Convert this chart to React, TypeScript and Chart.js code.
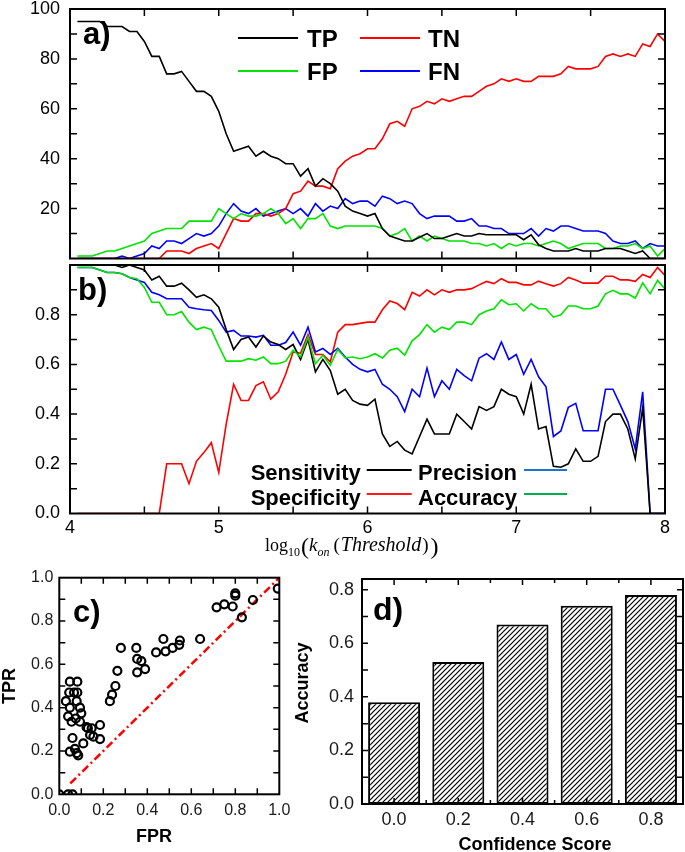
import { useEffect, useRef } from 'react';
import { Chart, registerables } from 'chart.js';

Chart.register(...registerables);

const W = 685;
const H = 852;
const SANS = "'Liberation Sans', Arial, Helvetica, sans-serif";
const SERIF = "'Liberation Serif', 'Times New Roman', Times, serif";

const RED = '#ff0000';
const GREEN = '#00e400';
const BLUE = '#0000ff';
const BLACK = '#000000';

// ---------------- data: panels a) and b) ----------------
const KON = [
  4.05, 4.1, 4.15, 4.2, 4.25, 4.3, 4.35, 4.4, 4.45, 4.5,
  4.55, 4.6, 4.65, 4.7, 4.75, 4.8, 4.85, 4.9, 4.95, 5.0,
  5.05, 5.1, 5.15, 5.2, 5.25, 5.3, 5.35, 5.4, 5.45, 5.5,
  5.55, 5.6, 5.65, 5.7, 5.75, 5.8, 5.85, 5.9, 5.95, 6.0,
  6.05, 6.1, 6.15, 6.2, 6.25, 6.3, 6.35, 6.4, 6.45, 6.5,
  6.55, 6.6, 6.65, 6.7, 6.75, 6.8, 6.85, 6.9, 6.95, 7.0,
  7.05, 7.1, 7.15, 7.2, 7.25, 7.3, 7.35, 7.4, 7.45, 7.5,
  7.55, 7.6, 7.65, 7.7, 7.75, 7.8, 7.85, 7.9, 7.95, 8.0,
];

const TP = [
  95, 95, 95, 95, 93, 93, 93, 91, 91, 87,
  81, 81, 74, 74, 75, 71, 67, 67, 65, 59,
  50, 43, 44, 45, 41, 43, 41, 40, 38, 38,
  33, 36, 29, 32, 30, 27, 21, 19, 18, 17,
  18, 12, 9, 8, 7, 7, 8.5, 10, 8, 8,
  9, 10, 9, 9, 10, 9.5, 9.5, 9.5, 9.5, 9.5,
  7.5, 9.5, 5.5, 4, 3, 3, 3, 4, 3, 3,
  3, 4, 4, 4, 3, 2, 3, 0, 0, 0,
];
const FP = [
  1, 1, 1, 2, 3, 3, 4, 5, 6, 7,
  10, 11, 12, 12, 12, 15, 15, 15, 15, 20,
  18, 16, 18, 17, 17, 18, 20, 18, 14, 16,
  12, 16, 16, 18, 13, 12, 13, 13, 13, 13,
  13, 12, 9, 10, 12, 7, 9, 7, 9, 8,
  7, 7, 7, 6, 6, 5, 6, 4, 6, 5,
  6, 6, 5, 6, 7, 6, 4, 5, 6, 6,
  6, 4, 4, 5, 5, 6, 4, 5, 1, 4,
];
const TN = [
  0, 0, 0, 0, 0, 0, 0, 0, 0, 0,
  0, 0, 3, 3, 3, 2, 4, 5, 6, 4,
  10, 16, 15, 15, 18, 18, 17, 18, 20, 26,
  27, 31, 29, 29, 28, 36, 39, 41, 42, 44,
  44, 48, 54, 55, 53, 60, 61, 63, 62, 64,
  63, 64, 65, 65, 67, 69, 70, 72, 71, 72,
  71, 71, 73, 73, 73, 74, 77, 76, 76, 76,
  77, 81, 82, 81, 82, 81, 86, 85, 90, 87,
];
const FN = [
  0, 0, 0, 0, 0, 0, 1, 0, 1, 2,
  5, 4, 7, 7, 6, 8, 10, 9, 10, 13,
  18, 22, 19, 18, 20, 17, 18, 19, 20, 18,
  20, 17, 22, 19, 21, 20, 24, 22, 23, 23,
  21, 25, 24, 22, 23, 22, 18, 16, 17, 17,
  17, 15, 15, 16, 13, 13, 12, 12, 10, 10,
  10, 12, 9, 12, 11, 13, 13, 12, 11, 11,
  11, 10, 7, 6, 6, 7, 4, 6, 5, 5,
];

const SENSITIVITY = [
  1, 1, 1, 1, 1, 1, 0.99, 1, 0.99, 0.98,
  0.94, 0.955, 0.915, 0.915, 0.927, 0.9, 0.87, 0.88, 0.864, 0.83,
  0.74, 0.66, 0.7, 0.71, 0.67, 0.715, 0.69, 0.68, 0.66, 0.68,
  0.62, 0.7, 0.57, 0.62, 0.575, 0.48, 0.5, 0.455, 0.44, 0.435,
  0.46, 0.32, 0.27, 0.29, 0.255, 0.24, 0.31, 0.38, 0.32, 0.32,
  0.32, 0.4, 0.37, 0.34, 0.43, 0.415, 0.43, 0.5, 0.48, 0.47,
  0.4, 0.52, 0.34, 0.35, 0.19, 0.186, 0.2, 0.26, 0.21, 0.21,
  0.23, 0.37, 0.4, 0.4, 0.34, 0.22, 0.425, 0, 0, 0,
];
const SPECIFICITY = [
  0, 0, 0, 0, 0, 0, 0, 0, 0, 0,
  0, 0, 0.2, 0.2, 0.2, 0.12, 0.21, 0.245, 0.285, 0.165,
  0.36, 0.52, 0.455, 0.455, 0.515, 0.53, 0.46, 0.49, 0.56, 0.65,
  0.645, 0.72, 0.64, 0.64, 0.61, 0.73, 0.76, 0.76, 0.765, 0.77,
  0.77, 0.82, 0.855, 0.845, 0.82, 0.89, 0.875, 0.9, 0.88, 0.9,
  0.89, 0.9, 0.9, 0.905, 0.92, 0.934, 0.925, 0.945, 0.93, 0.93,
  0.92, 0.92, 0.935, 0.925, 0.915, 0.925, 0.95, 0.94, 0.927, 0.927,
  0.927, 0.955, 0.955, 0.94, 0.94, 0.934, 0.962, 0.95, 0.99, 0.958,
];
const PRECISION = [
  0.99, 0.99, 0.99, 0.98, 0.97, 0.97, 0.965, 0.95, 0.94, 0.93,
  0.89, 0.88, 0.864, 0.864, 0.864, 0.83, 0.824, 0.82, 0.817, 0.777,
  0.73, 0.737, 0.714, 0.714, 0.71, 0.717, 0.677, 0.677, 0.688, 0.73,
  0.677, 0.75, 0.65, 0.664, 0.64, 0.665, 0.63, 0.6, 0.58, 0.57,
  0.58, 0.52, 0.5, 0.47, 0.41, 0.5, 0.47, 0.585, 0.47, 0.534,
  0.5, 0.58, 0.555, 0.534, 0.625, 0.643, 0.62, 0.69, 0.62, 0.64,
  0.56, 0.62, 0.55, 0.51, 0.31, 0.332, 0.427, 0.443, 0.333, 0.333,
  0.333, 0.5, 0.5, 0.436, 0.37, 0.26, 0.49, 0, 0, 0,
];
const ACCURACY = [
  0.99, 0.99, 0.99, 0.98, 0.97, 0.97, 0.965, 0.95, 0.945, 0.91,
  0.85, 0.85, 0.8, 0.8, 0.813, 0.77, 0.74, 0.75, 0.74, 0.674,
  0.613, 0.613, 0.613, 0.623, 0.617, 0.63, 0.603, 0.603, 0.613, 0.657,
  0.63, 0.71, 0.603, 0.637, 0.597, 0.66, 0.626, 0.63, 0.623, 0.63,
  0.643, 0.626, 0.657, 0.665, 0.637, 0.695, 0.72, 0.76, 0.73, 0.75,
  0.74, 0.77, 0.77, 0.76, 0.8, 0.815, 0.824, 0.86, 0.84, 0.844,
  0.815, 0.844, 0.824, 0.824, 0.79, 0.8, 0.835, 0.835, 0.824, 0.824,
  0.835, 0.884, 0.898, 0.884, 0.884, 0.867, 0.928, 0.884, 0.938, 0.904,
];

// ---------------- data: panel c) ----------------
const FPR = [
  0.0, 0.04, 0.06, 0.03, 0.048, 0.082, 0.045, 0.067, 0.082, 0.048, 0.04,
  0.056, 0.079, 0.094, 0.1, 0.075, 0.094, 0.06, 0.048, 0.071, 0.086,
  0.079, 0.109, 0.124, 0.13, 0.14, 0.147, 0.155, 0.185, 0.185, 0.23,
  0.24, 0.255, 0.264, 0.28, 0.35, 0.354, 0.354, 0.373, 0.39, 0.44,
  0.473, 0.483, 0.515, 0.545, 0.548, 0.64, 0.715, 0.75, 0.788, 0.8,
  0.8, 0.83, 0.88, 0.993,
];
const TPR = [
  0, 0, 0, 0.43, 0.52, 0.52, 0.47, 0.47, 0.47, 0.4, 0.36,
  0.335, 0.43, 0.4, 0.374, 0.35, 0.335, 0.26, 0.197, 0.21, 0.18,
  0.19, 0.235, 0.31, 0.305, 0.274, 0.305, 0.266, 0.32, 0.255, 0.43,
  0.46, 0.5, 0.57, 0.676, 0.676, 0.625, 0.563, 0.615, 0.578, 0.655,
  0.717, 0.66, 0.676, 0.69, 0.71, 0.717, 0.863, 0.877, 0.867, 0.917,
  0.928, 0.817, 0.897, 0.95,
];
const DIAG_X = [0.05, 1.0];
const DIAG_Y = [0.05, 1.0];

// ---------------- data: panel d) ----------------
const CONF_SCORES = ['0.0', '0.2', '0.4', '0.6', '0.8'];
const CONF_ACCURACY = [0.38, 0.53, 0.67, 0.74, 0.78];

// ---------------- axis tick values ----------------
const AB_X_TICKS = [4.5, 5, 5.5, 6, 6.5, 7, 7.5];
const A_Y_TICKS = [10, 20, 30, 40, 50, 60, 70, 80, 90];
const B_Y_TICKS = [0.1, 0.2, 0.3, 0.4, 0.5, 0.6, 0.7, 0.8, 0.9];
const C_TICKS = [0.1, 0.2, 0.3, 0.4, 0.5, 0.6, 0.7, 0.8, 0.9];
const D_Y_TICKS = [0.1, 0.2, 0.3, 0.4, 0.5, 0.6, 0.7, 0.8];
const D_X_MAJOR = [0, 1, 2, 3, 4];
const D_X_MINOR = [0.5, 1.5, 2.5, 3.5];

// ---------------- layout (chart areas in page pixels) ----------------
const AREA_A = { l: 70, t: 9, r: 665, b: 258.5 };
const AREA_B = { l: 70, t: 265, r: 665, b: 513.5 };
const AREA_C = { l: 59.3, t: 577.7, r: 279.3, b: 794.3 };
const AREA_D = { l: 362, t: 579, r: 683, b: 804 };

type Area = { l: number; t: number; r: number; b: number };
type TickSpec = { axis: 'x' | 'y'; values: number[]; len: number; sides: string[] };

function baseOptions(area: Area) {
  return {
    animation: false,
    responsive: false,
    maintainAspectRatio: false,
    events: [],
    layout: { padding: { left: 0, top: area.t, right: W - area.r, bottom: 0 } },
    plugins: { legend: { display: false }, tooltip: { enabled: false }, title: { display: false } },
  };
}

const noGrid = { display: false, drawTicks: false, drawOnChartArea: false };
const noBorder = { display: false };
const tickFont = (size: number) => ({ family: SANS, size, lineHeight: 1 });

const fitX = (area: Area) => (s: any) => {
  s.height = H - area.b;
  s.paddingLeft = 0;
  s.paddingRight = 0;
};
const fitY = (area: Area) => (s: any) => {
  s.width = area.l;
  s.paddingTop = 0;
  s.paddingBottom = 0;
};

function framePlugin(id: string, specs: TickSpec[]) {
  return {
    id,
    afterDatasetsDraw(chart: any) {
      const { ctx, chartArea: a, scales } = chart;
      ctx.save();
      ctx.strokeStyle = '#000';
      ctx.lineWidth = 1.5;
      ctx.beginPath();
      for (const s of specs) {
        for (const v of s.values) {
          if (s.axis === 'x') {
            const p = scales.x.getPixelForValue(v);
            if (s.sides.includes('bottom')) {
              ctx.moveTo(p, a.bottom);
              ctx.lineTo(p, a.bottom - s.len);
            }
            if (s.sides.includes('top')) {
              ctx.moveTo(p, a.top);
              ctx.lineTo(p, a.top + s.len);
            }
          } else {
            const p = scales.y.getPixelForValue(v);
            if (s.sides.includes('left')) {
              ctx.moveTo(a.left, p);
              ctx.lineTo(a.left + s.len, p);
            }
            if (s.sides.includes('right')) {
              ctx.moveTo(a.right, p);
              ctx.lineTo(a.right - s.len, p);
            }
          }
        }
      }
      ctx.stroke();
      ctx.lineWidth = 2;
      ctx.strokeRect(a.left, a.top, a.right - a.left, a.bottom - a.top);
      ctx.restore();
    },
  };
}

function annotPlugin(id: string, draw: (ctx: CanvasRenderingContext2D, chart: any) => void) {
  return {
    id,
    afterDraw(chart: any) {
      const ctx = chart.ctx;
      ctx.save();
      ctx.fillStyle = '#000';
      ctx.textAlign = 'left';
      ctx.textBaseline = 'alphabetic';
      draw(ctx, chart);
      ctx.restore();
    },
  };
}

function lineDs(label: string, data: number[], color: string) {
  return {
    label,
    data,
    borderColor: color,
    backgroundColor: color,
    borderWidth: 1.6,
    pointRadius: 0,
    fill: false,
    tension: 0,
  };
}

function legendLine(ctx: CanvasRenderingContext2D, x1: number, x2: number, y: number, color: string, w: number) {
  ctx.save();
  ctx.strokeStyle = color;
  ctx.lineWidth = w;
  ctx.beginPath();
  ctx.moveTo(x1, y);
  ctx.lineTo(x2, y);
  ctx.stroke();
  ctx.restore();
}

// ---------------- panel a ----------------
function makeA(canvas: HTMLCanvasElement) {
  const area = AREA_A;
  return new Chart(canvas, {
    type: 'line',
    data: {
      labels: KON,
      datasets: [
        lineDs('TP', TP, BLACK),
        lineDs('FP', FP, GREEN),
        lineDs('TN', TN, RED),
        lineDs('FN', FN, BLUE),
      ],
    },
    options: {
      ...baseOptions(area),
      scales: {
        x: {
          type: 'linear', min: 4, max: 8, grid: noGrid, border: noBorder,
          ticks: { display: false },
          afterFit: fitX(area),
        },
        y: {
          type: 'linear', min: 0, max: 100, grid: noGrid, border: noBorder,
          ticks: {
            stepSize: 20, padding: 10, color: '#000', font: tickFont(18),
            callback: (v: any) => (Number(v) === 0 ? '' : String(v)),
          },
          afterFit: fitY(area),
        },
      },
    } as any,
    plugins: [
      framePlugin('frameA', [
        { axis: 'x', values: AB_X_TICKS, len: 7, sides: ['top', 'bottom'] },
        { axis: 'y', values: A_Y_TICKS, len: 7, sides: ['left', 'right'] },
      ]),
      annotPlugin('annotA', (ctx, chart) => {
        ctx.font = `bold 31px ${SANS}`;
        ctx.fillText('a)', 83, 44);
        const ds = chart.data.datasets;
        const cols = [
          { x1: 238, x2: 298, tx: 307 },
          { x1: 360, x2: 420, tx: 428 },
        ];
        const rows = [{ ly: 38, by: 47 }, { ly: 71, by: 80 }];
        ctx.font = `bold 24px ${SANS}`;
        ds.forEach((d: any, i: number) => {
          const c = cols[Math.floor(i / 2)];
          const r = rows[i % 2];
          legendLine(ctx, c.x1, c.x2, r.ly, d.borderColor, 2);
          ctx.fillStyle = '#000';
          ctx.fillText(d.label, c.tx, r.by);
        });
      }),
    ],
  } as any);
}

// ---------------- panel b ----------------
const LEGEND_B = [
  { label: 'Sensitivity', color: '#000000' },
  { label: 'Specificity', color: '#ff1a1a' },
  { label: 'Precision', color: '#1c74c6' },
  { label: 'Accuracy', color: '#00b050' },
];

function drawMathTitle(ctx: CanvasRenderingContext2D) {
  let x = 265;
  const base = 551;
  const put = (t: string, font: string, dy: number, gap: number) => {
    ctx.font = font;
    ctx.fillText(t, x, base + dy);
    x += ctx.measureText(t).width + gap;
  };
  put('log', `18px ${SERIF}`, 0, 0);
  put('10', `12px ${SERIF}`, 5, 1);
  put('(', `24px ${SERIF}`, 3, 0);
  put('k', `italic 19px ${SERIF}`, 0, 0);
  put('on', `italic 12px ${SERIF}`, 5, 4);
  put('(', `19px ${SERIF}`, 0, 1);
  put('Threshold', `italic 20px ${SERIF}`, 0, 1);
  put(')', `19px ${SERIF}`, 0, 2);
  put(')', `24px ${SERIF}`, 3, 0);
}

function makeB(canvas: HTMLCanvasElement) {
  const area = AREA_B;
  return new Chart(canvas, {
    type: 'line',
    data: {
      labels: KON,
      datasets: [
        lineDs('Accuracy', ACCURACY, GREEN),
        lineDs('Sensitivity', SENSITIVITY, BLACK),
        lineDs('Precision', PRECISION, BLUE),
        lineDs('Specificity', SPECIFICITY, RED),
      ],
    },
    options: {
      ...baseOptions(area),
      scales: {
        x: {
          type: 'linear', min: 4, max: 8, grid: noGrid, border: noBorder,
          ticks: { stepSize: 1, padding: 6, color: '#000', font: tickFont(18), maxRotation: 0, autoSkip: false },
          afterFit: fitX(area),
        },
        y: {
          type: 'linear', min: 0, max: 1, grid: noGrid, border: noBorder,
          ticks: {
            stepSize: 0.2, padding: 10, color: '#000', font: tickFont(18),
            callback: (v: any) => (Math.abs(Number(v) - 1) < 1e-6 ? '' : Number(v).toFixed(1)),
          },
          afterFit: fitY(area),
        },
      },
    } as any,
    plugins: [
      framePlugin('frameB', [
        { axis: 'x', values: AB_X_TICKS, len: 7, sides: ['top', 'bottom'] },
        { axis: 'y', values: B_Y_TICKS, len: 7, sides: ['left', 'right'] },
      ]),
      annotPlugin('annotB', (ctx) => {
        ctx.font = `bold 31px ${SANS}`;
        ctx.fillText('b)', 78, 300);
        const cols = [
          { tx: 250.7, x1: 366.7, x2: 411.7 },
          { tx: 418, x1: 524, x2: 567 },
        ];
        const rows = [{ ly: 470, by: 480 }, { ly: 494, by: 505 }];
        ctx.font = `bold 22px ${SANS}`;
        LEGEND_B.forEach((e, i) => {
          const c = cols[Math.floor(i / 2)];
          const r = rows[i % 2];
          ctx.fillStyle = '#000';
          ctx.fillText(e.label, c.tx, r.by);
          legendLine(ctx, c.x1, c.x2, r.ly, e.color, 2.2);
        });
        ctx.fillStyle = '#000';
        drawMathTitle(ctx);
      }),
    ],
  } as any);
}

// ---------------- panel c ----------------
function makeC(canvas: HTMLCanvasElement) {
  const area = AREA_C;
  const label1 = (v: any) => Number(v).toFixed(1);
  return new Chart(canvas, {
    type: 'scatter',
    data: {
      datasets: [
        {
          label: 'ROC',
          data: FPR.map((x, i) => ({ x, y: TPR[i] })),
          pointRadius: 4,
          pointBorderWidth: 2.2,
          borderColor: '#000',
          pointBorderColor: '#000',
          backgroundColor: 'rgba(0,0,0,0)',
          pointBackgroundColor: 'rgba(0,0,0,0)',
          showLine: false,
          clip: 0,
        },
        {
          label: 'Random',
          data: DIAG_X.map((x, i) => ({ x, y: DIAG_Y[i] })),
          showLine: true,
          pointRadius: 0,
          borderColor: RED,
          borderWidth: 2.5,
          borderDash: [8, 3.5, 2, 3.5],
          clip: 0,
        },
      ],
    },
    options: {
      ...baseOptions(area),
      scales: {
        x: {
          type: 'linear', min: 0, max: 1, grid: noGrid, border: noBorder,
          ticks: { stepSize: 0.2, padding: 8.5, color: '#1a1a1a', font: tickFont(16), maxRotation: 0, autoSkip: false, callback: label1 },
          afterFit: fitX(area),
        },
        y: {
          type: 'linear', min: 0, max: 1, grid: noGrid, border: noBorder,
          ticks: { stepSize: 0.2, padding: 6, color: '#1a1a1a', font: tickFont(16), callback: label1 },
          afterFit: fitY(area),
        },
      },
    } as any,
    plugins: [
      framePlugin('frameC', [
        { axis: 'x', values: C_TICKS, len: 6, sides: ['top', 'bottom'] },
        { axis: 'y', values: C_TICKS, len: 6, sides: ['left', 'right'] },
      ]),
      annotPlugin('annotC', (ctx) => {
        ctx.font = `bold 31px ${SANS}`;
        ctx.fillText('c)', 73, 622);
        ctx.font = `bold 18px ${SANS}`;
        ctx.textAlign = 'center';
        ctx.fillText('FPR', 154, 842);
        ctx.save();
        ctx.translate(15, 686);
        ctx.rotate(-Math.PI / 2);
        ctx.fillText('TPR', 0, 0);
        ctx.restore();
      }),
    ],
  } as any);
}

// ---------------- panel d ----------------
function hatchPattern(): CanvasPattern | string {
  const c = document.createElement('canvas');
  const n = 5;
  c.width = n;
  c.height = n;
  const g = c.getContext('2d');
  if (!g) return '#888';
  g.fillStyle = '#ffffff';
  g.fillRect(0, 0, n, n);
  g.strokeStyle = '#000000';
  g.lineWidth = 1.2;
  g.beginPath();
  g.moveTo(0, n);
  g.lineTo(n, 0);
  g.moveTo(-1, 1);
  g.lineTo(1, -1);
  g.moveTo(n - 1, n + 1);
  g.lineTo(n + 1, n - 1);
  g.stroke();
  return g.createPattern(c, 'repeat') || '#888';
}

function makeD(canvas: HTMLCanvasElement) {
  const area = AREA_D;
  return new Chart(canvas, {
    type: 'bar',
    data: {
      labels: CONF_SCORES,
      datasets: [
        {
          label: 'Accuracy',
          data: CONF_ACCURACY,
          backgroundColor: hatchPattern(),
          borderColor: '#000',
          borderWidth: 2,
          borderSkipped: false,
          barPercentage: 0.81,
          categoryPercentage: 1,
        },
      ],
    },
    options: {
      ...baseOptions(area),
      scales: {
        x: {
          type: 'category', offset: true, grid: { ...noGrid, offset: true }, border: noBorder,
          ticks: { padding: 7.5, color: '#1a1a1a', font: tickFont(18), maxRotation: 0, autoSkip: false },
          afterFit: fitX(area),
        },
        y: {
          type: 'linear', min: 0, max: 0.84, grid: noGrid, border: noBorder,
          ticks: {
            stepSize: 0.2, includeBounds: false, padding: 8, color: '#1a1a1a', font: tickFont(18),
            callback: (v: any) => Number(v).toFixed(1),
          },
          afterFit: fitY(area),
        },
      },
    } as any,
    plugins: [
      framePlugin('frameD', [
        { axis: 'x', values: D_X_MAJOR, len: 6, sides: ['top', 'bottom'] },
        { axis: 'x', values: D_X_MINOR, len: 4, sides: ['top', 'bottom'] },
        { axis: 'y', values: D_Y_TICKS, len: 6, sides: ['left', 'right'] },
      ]),
      annotPlugin('annotD', (ctx) => {
        ctx.font = `bold 32px ${SANS}`;
        ctx.fillText('d)', 373, 620);
        ctx.font = `bold 18px ${SANS}`;
        ctx.textAlign = 'center';
        ctx.fillText('Confidence Score', 535, 850);
        ctx.save();
        ctx.translate(308, 683);
        ctx.rotate(-Math.PI / 2);
        ctx.fillText('Accuracy', 0, 0);
        ctx.restore();
      }),
    ],
  } as any);
}

function ChartLayer({ make }: { make: (c: HTMLCanvasElement) => Chart }) {
  const ref = useRef<HTMLCanvasElement | null>(null);
  useEffect(() => {
    if (!ref.current) return;
    const chart = make(ref.current);
    return () => chart.destroy();
  }, [make]);
  return (
    <canvas
      ref={ref}
      width={W}
      height={H}
      style={{ position: 'absolute', left: 0, top: 0, width: W, height: H, pointerEvents: 'none' }}
    />
  );
}

export default function App() {
  return (
    <div style={{ position: 'absolute', left: 0, top: 0, width: W, height: H, background: '#fff', overflow: 'hidden' }}>
      <ChartLayer make={makeA} />
      <ChartLayer make={makeB} />
      <ChartLayer make={makeC} />
      <ChartLayer make={makeD} />
    </div>
  );
}
